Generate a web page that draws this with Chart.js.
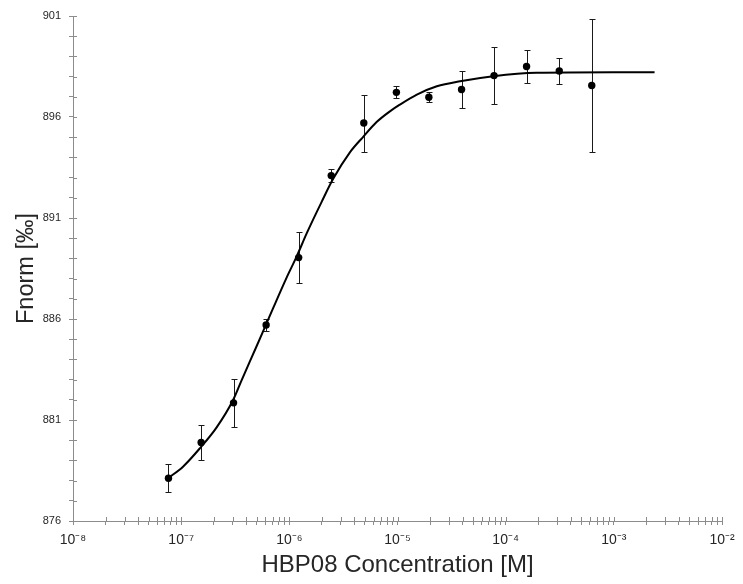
<!DOCTYPE html>
<html><head><meta charset="utf-8">
<script src="https://cdn.jsdelivr.net/npm/chart.js@4/dist/chart.umd.min.js"></script>
<style>html,body{margin:0;padding:0;background:#fff}#wrap{width:743px;height:584px;position:relative}</style>
</head><body><div id="wrap"><canvas id="c"></canvas></div>
<script>
// Measured data points (2-fold dilution series)
const concentrations = [7.63e-8, 1.53e-7, 3.05e-7, 6.10e-7, 1.22e-6, 2.44e-6, 4.88e-6, 9.77e-6, 1.95e-5, 3.91e-5, 7.81e-5, 1.56e-4, 3.13e-4, 6.25e-4];
const fnormValues = [878.12, 879.89, 881.85, 885.70, 889.04, 893.10, 895.70, 897.22, 896.98, 897.36, 898.05, 898.50, 898.28, 897.56];
const fnormErrors = [0.69, 0.88, 1.20, 0.30, 1.28, 0.31, 1.41, 0.30, 0.24, 0.91, 1.40, 0.83, 0.66, 3.27];
// Fit curve
const fitConcentrations = [7.57e-8, 1.04e-7, 1.49e-7, 2.12e-7, 3.03e-7, 3.61e-7, 4.98e-7, 5.73e-7, 7.10e-7, 9.44e-7, 1.17e-6, 1.45e-6, 1.99e-6, 2.55e-6, 3.63e-6, 4.82e-6, 6.41e-6, 8.51e-6, 1.05e-5, 1.51e-5, 2.31e-5, 3.79e-5, 7.69e-5, 1.94e-4, 9.93e-4, 2.38e-3];
const fitValues = [878.12, 878.69, 879.60, 880.62, 882.00, 882.95, 884.65, 885.40, 886.55, 888.05, 889.10, 890.25, 891.80, 892.95, 894.25, 895.02, 895.75, 896.28, 896.61, 897.11, 897.52, 897.77, 898.02, 898.19, 898.22, 898.22];
// Tick labels
const yTickLabels = ['876', '881', '886', '891', '896', '901'];
const xTickLabels = ['10⁻⁸', '10⁻⁷', '10⁻⁶', '10⁻⁵', '10⁻⁴', '10⁻³', '10⁻²'];
const xTitle = 'HBP08 Concentration [M]';
const yTitle = 'Fnorm [‰]';

const AXIS_COLOR = '#8c8c8c';
const TEXT_COLOR = '#262626';

const extras = {
  id: 'extras',
  beforeDatasetsDraw(chart) {
    const ctx = chart.ctx, xs = chart.scales.x, ys = chart.scales.y;
    ctx.save();
    ctx.strokeStyle = '#1a1a1a';
    ctx.lineWidth = 1;
    concentrations.forEach((c, i) => {
      const px = Math.round(xs.getPixelForValue(c)) + 0.5;
      const top = Math.round(ys.getPixelForValue(fnormValues[i] + fnormErrors[i])) + 0.5;
      const bot = Math.round(ys.getPixelForValue(fnormValues[i] - fnormErrors[i])) + 0.5;
      ctx.beginPath();
      ctx.moveTo(px, top); ctx.lineTo(px, bot);
      ctx.moveTo(px - 3, top); ctx.lineTo(px + 3, top);
      ctx.moveTo(px - 3, bot); ctx.lineTo(px + 3, bot);
      ctx.stroke();
    });
    ctx.restore();
  },
  afterDraw(chart) {
    const ctx = chart.ctx, xs = chart.scales.x, ys = chart.scales.y;
    ctx.save();
    ctx.strokeStyle = AXIS_COLOR;
    ctx.lineWidth = 1;
    ctx.beginPath();
    xs.ticks.forEach(t => {
      const px = Math.round(xs.getPixelForValue(t.value)) + 0.5;
      ctx.moveTo(px, ys.bottom); ctx.lineTo(px, ys.bottom - 4);
    });
    ys.ticks.forEach(t => {
      const py = Math.round(ys.getPixelForValue(t.value)) + 0.5;
      ctx.moveTo(xs.left, py); ctx.lineTo(xs.left + 4, py);
    });
    ctx.stroke();
    ctx.restore();
  }
};

new Chart(document.getElementById('c'), {
  type: 'scatter',
  data: {
    datasets: [
      {
        label: 'Fit',
        data: fitConcentrations.map((x, i) => ({ x, y: fitValues[i] })),
        showLine: true,
        borderColor: '#000',
        borderWidth: 2,
        pointRadius: 0,
        cubicInterpolationMode: 'monotone',
        order: 2
      },
      {
        label: 'Fnorm',
        data: concentrations.map((x, i) => ({ x, y: fnormValues[i] })),
        backgroundColor: '#000',
        borderColor: '#000',
        pointRadius: 3.7,
        pointBorderWidth: 0,
        order: 1
      }
    ]
  },
  options: {
    responsive: true,
    maintainAspectRatio: false,
    animation: false,
    devicePixelRatio: 1,
    layout: { padding: { top: 16, right: 21, bottom: 0, left: 0 } },
    plugins: { legend: { display: false }, tooltip: { enabled: false } },
    scales: {
      x: {
        type: 'logarithmic',
        min: 1e-8,
        max: 1e-2,
        afterBuildTicks(scale) {
          scale.ticks = scale.ticks.filter(t => {
            const e = Math.floor(Math.log10(t.value) + 1e-9);
            const m = t.value / Math.pow(10, e);
            return Math.abs(m - Math.round(m)) < 1e-6;
          });
        },
        afterFit(scale) { scale.height = 63; },
        grid: { display: true, drawOnChartArea: false, drawTicks: true, tickLength: 4, color: AXIS_COLOR },
        border: { display: true, color: AXIS_COLOR, width: 1 },
        ticks: {
          autoSkip: false,
          maxRotation: 0,
          padding: 7,
          color: TEXT_COLOR,
          font: { family: 'Liberation Sans, Arial, sans-serif', size: 14 },
          callback(v) {
            const e = Math.log10(v);
            const r = Math.round(e);
            return Math.abs(e - r) < 1e-6 ? xTickLabels[r + 8] : '';
          }
        },
        title: {
          display: true,
          text: xTitle,
          color: TEXT_COLOR,
          font: { family: 'Liberation Sans, Arial, sans-serif', size: 24 },
          padding: { top: 0, bottom: 4 }
        }
      },
      y: {
        type: 'linear',
        min: 876,
        max: 901,
        afterFit(scale) { scale.width = 73; },
        grid: { display: true, drawOnChartArea: false, drawTicks: true, tickLength: 4, color: AXIS_COLOR },
        border: { display: true, color: AXIS_COLOR, width: 1 },
        ticks: {
          stepSize: 1,
          autoSkip: false,
          maxTicksLimit: 100,
          padding: 8,
          color: TEXT_COLOR,
          font: { family: 'Liberation Sans, Arial, sans-serif', size: 11 },
          callback(v) {
            const s = String(v);
            return yTickLabels.includes(s) ? s : '';
          }
        },
        title: {
          display: true,
          text: yTitle,
          color: TEXT_COLOR,
          font: { family: 'Liberation Sans, Arial, sans-serif', size: 23.5 },
          padding: { top: 12, bottom: 0 }
        }
      }
    }
  },
  plugins: [extras]
});
</script>
</body></html>
